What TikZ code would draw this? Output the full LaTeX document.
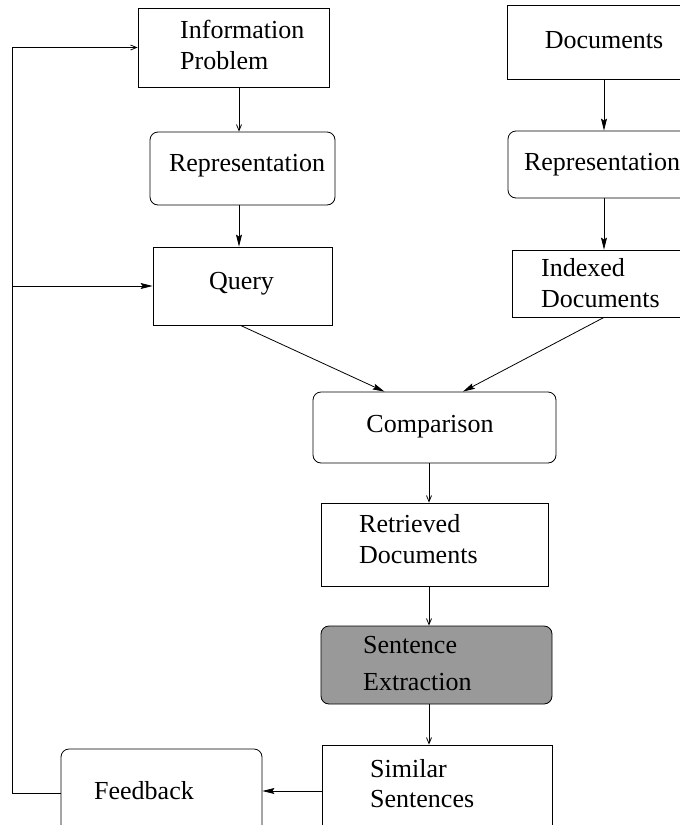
\documentclass[tikz,border=0pt]{standalone}
\usepackage{fontspec}
\setmainfont{Liberation Serif}
\usetikzlibrary{arrows.meta,calc}
\definecolor{sentgray}{gray}{0.6}
\begin{document}
\begin{tikzpicture}[x=1pt,y=-1pt,
  box/.style={draw, line width=0.8pt, inner sep=0pt},
  rbox/.style={box, rounded corners=8pt},
  lbl/.style={font=\fontsize{26}{31}\selectfont, inner sep=0pt, align=left},
  tipV/.style={-{Straight Barb[length=6pt,width=5pt]}, line width=0.8pt},
  tipF/.style={-{Stealth[length=12pt,width=6pt,inset=2pt]}, line width=0.8pt}]
\useasboundingbox (0,0) rectangle (680,825);
\clip (0,0) rectangle (680,825);

% boxes
\node[box,  minimum width=191pt, minimum height=79pt] (info)  at (233.5,47.5) {};
\node[rbox, minimum width=185pt, minimum height=73pt] (repL)  at (242.5,168.5) {};
\node[box,  minimum width=179pt, minimum height=78pt] (query) at (242.5,286) {};
\node[box,  minimum width=194pt, minimum height=74pt] (docs)  at (604,42) {};
\node[rbox, minimum width=192pt, minimum height=67pt] (repR)  at (604,164.5) {};
\node[box,  minimum width=184pt, minimum height=67pt] (idx)   at (604,283.5) {};
\node[rbox, minimum width=243pt, minimum height=71pt] (comp)  at (434.5,427.5) {};
\node[box,  minimum width=227pt, minimum height=83pt] (retr)  at (434.5,544.5) {};
\node[rbox, fill=sentgray, minimum width=231pt, minimum height=78pt] (sent) at (436.5,665) {};
\node[rbox, minimum width=201pt, minimum height=88pt] (feed)  at (161.5,793) {};
\node[box,  minimum width=230pt, minimum height=92pt] (sim)   at (437,791) {};

% labels
\node[lbl, anchor=west] (infoT) at (180,45) {Information\\Problem};
\node[lbl] (repLT) at (247,166) {Representation};
\node[lbl] (queryT) at (241.5,284) {Query};
\node[lbl] (docsT) at (604,40) {Documents};
\node[lbl] (repRT) at (602,165) {Representation};
\node[lbl, anchor=west] (idxT) at (541,283) {Indexed\\Documents};
\node[lbl] (compT) at (430,427) {Comparison};
\node[lbl, anchor=west] (retrT) at (359,539) {Retrieved\\Documents};
\node[lbl, anchor=west, font=\fontsize{26}{37}\selectfont] (sentT) at (363,664) {Sentence\\Extraction};
\node[lbl, anchor=west, font=\fontsize{26}{30}\selectfont] (simT) at (370,784) {Similar\\Sentences};
\node[lbl] (feedT) at (144,791) {Feedback};

% column coordinates
\coordinate (cL) at (239,0);
\coordinate (cR) at (604,0);
\coordinate (cM) at (429,0);
\coordinate (lx) at (12,0);

% connectors
\draw[tipV] (info.south -| cL) -- (repL.north -| cL);
\draw[tipF] (repL.south -| cL) -- (query.north -| cL);
\draw[tipF] (docs.south -| cR) -- (repR.north -| cR);
\draw[tipF] (repR.south -| cR) -- (idx.north -| cR);
\draw[tipF] ($(query.south)+(-2,0)$) -- ($(comp.north)+(-50,0)$);
\draw[tipF] (idx.south) -- ($(comp.north)+(28.5,0)$);
\draw[tipV] (comp.south -| cM) -- (retr.north -| cM);
\draw[tipV] (retr.south -| cM) -- (sent.north -| cM);
\draw[tipV] (sent.south -| cM) -- (sim.north -| cM);
\draw[tipF] (sim.west) -- (sim.west -| feed.east);
\draw[tipV] (feed.west) -- (feed.west -| lx) -- (info.west -| lx) -- (info.west);
\draw[tipF] (query.west -| lx) -- (query.west);
\end{tikzpicture}
\end{document}
